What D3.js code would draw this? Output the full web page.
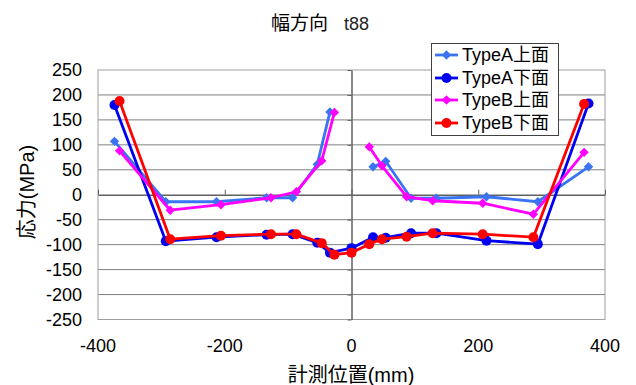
<!DOCTYPE html>
<html><head><meta charset="utf-8">
<script src="https://cdn.jsdelivr.net/npm/d3@7"></script>
<style>
body{margin:0;background:#fff;}
text{font-family:"Liberation Sans",Arial,"Noto Sans CJK JP",sans-serif;fill:#000;}
</style></head>
<body><svg id="c" width="636" height="385"></svg>
<script>
// ---- data ----
const titleMain = "幅方向";
const titleSub = "t88";
const xLabel = "計測位置(mm)";
const yLabel = "応力(MPa)";
const xTicks = [-400,-200,0,200,400];
const yTicks = [250,200,150,100,50,0,-50,-100,-150,-200,-250];
const seriesNames = ["TypeA上面","TypeA下面","TypeB上面","TypeB下面"];
const posA = [-374,-293,-213,-134,-93,-54,-34,0,34,54,94,134,213,294,374];
const posB = [-366,-286,-206,-127,-87,-47,-27,0,28,48,87,128,207,287,367];
const typeAUpper = [107,-14,-14,-6,-6,61,166,null,56,67,-7,-7,-4,-14,56];
const typeALower = [180,-93,-85,-80,-79,-96,-116,-107,-85,-86,-77,-77,-92,-99,183];
const typeBUpper = [88,-31,-20,-6,6,68,165,null,96,58,-4,-12,-17,-39,85];
const typeBLower = [188,-89,-82,-79,-79,-97,-120,-116,-99,-89,-84,-77,-79,-85,182];

// ---- layout/styles ----
const L=98, R=605, T=70, B=319.5;
const colors = ["#3A74F2","#0000F0","#FF00FF","#FF0000"];
const markers = ["diamond","circle","diamond","circle"];
const seriesData = [
  posA.map((p,i)=>({x:p,y:typeAUpper[i]})),
  posA.map((p,i)=>({x:p,y:typeALower[i]})),
  posB.map((p,i)=>({x:p,y:typeBUpper[i]})),
  posB.map((p,i)=>({x:p,y:typeBLower[i]}))
];

const svg = d3.select("#c");
const x = d3.scaleLinear().domain([-400,400]).range([L,R]);
const y = d3.scaleLinear().domain([-250,250]).range([B,T]);

// grid
svg.append("g").selectAll("line").data(yTicks.filter(v=>v!==0 && Math.abs(v)!==250)).join("line")
  .attr("x1",L).attr("x2",R).attr("y1",d=>y(d)).attr("y2",d=>y(d))
  .attr("stroke","#808080").attr("stroke-width",1);
svg.append("rect").attr("x",L).attr("y",T).attr("width",R-L).attr("height",B-T)
  .attr("fill","none").attr("stroke","#a0a0a0").attr("stroke-width",1);

// zero axes
const yAxisG = svg.append("g").attr("transform",`translate(${x(0)},0)`)
  .call(d3.axisLeft(y).tickValues(yTicks).tickSize(4).tickSizeOuter(0).tickFormat(""));
yAxisG.select(".domain").attr("stroke","#606060").attr("stroke-width",1.5);
yAxisG.selectAll(".tick line").attr("stroke","#606060");
const xAxisG = svg.append("g").attr("transform",`translate(0,${y(0)})`)
  .call(d3.axisTop(x).tickValues(xTicks).tickSize(5).tickSizeOuter(0).tickFormat(""));
xAxisG.select(".domain").attr("stroke","#606060").attr("stroke-width",1.5);
xAxisG.selectAll(".tick line").attr("stroke","#606060");

// tick labels
svg.append("g").selectAll("text").data(yTicks).join("text")
  .attr("x",82).attr("y",d=>y(d)).attr("dy","0.35em").attr("text-anchor","end")
  .attr("font-size",18).text(d=>d);
svg.append("g").selectAll("text").data(xTicks).join("text")
  .attr("x",d=>x(d)).attr("y",352).attr("text-anchor","middle")
  .attr("font-size",18).text(d=>d);

// titles
const tt = svg.append("text").attr("x",320).attr("y",30).attr("text-anchor","middle").attr("font-size",19);
tt.append("tspan").text(titleMain);
tt.append("tspan").attr("dx",16).attr("font-size",18).attr("fill","#222").text(titleSub);
svg.append("text").attr("x",351).attr("y",382).attr("text-anchor","middle").attr("font-size",20).text(xLabel);
svg.append("text").attr("transform","translate(34,192) rotate(-90)").attr("text-anchor","middle").attr("font-size",20).text(yLabel);

// series
const line = d3.line().defined(d=>d.y!==null).x(d=>x(d.x)).y(d=>y(d.y));
const diamond = d3.symbol().type(d3.symbolDiamond2).size(56);
function drawMarker(g,type,col,cx,cy){
  if(type==="circle"){
    g.append("circle").attr("cx",cx).attr("cy",cy).attr("r",5).attr("fill",col);
  } else {
    g.append("path").attr("d",diamond()).attr("transform",`translate(${cx},${cy})`).attr("fill",col);
  }
}
seriesData.forEach((data,i)=>{
  const g = svg.append("g");
  g.append("path").datum(data).attr("d",line).attr("fill","none")
    .attr("stroke",colors[i]).attr("stroke-width",2.8).attr("stroke-linejoin","round");
  data.filter(d=>d.y!==null).forEach(d=>drawMarker(g,markers[i],colors[i],x(d.x),y(d.y)));
});

// legend
const lg = svg.append("g");
lg.append("rect").attr("x",431.5).attr("y",43.5).attr("width",127).attr("height",92)
  .attr("fill","#fff").attr("stroke","#404040").attr("stroke-width",1);
const rowY = [55,78,100,123];
seriesNames.forEach((n,i)=>{
  lg.append("line").attr("x1",435).attr("x2",458).attr("y1",rowY[i]).attr("y2",rowY[i])
    .attr("stroke",colors[i]).attr("stroke-width",2.8);
  drawMarker(lg,markers[i],colors[i],446.5,rowY[i]);
  lg.append("text").attr("x",462).attr("y",rowY[i]).attr("dy","0.36em").attr("font-size",18).text(n);
});
</script></body></html>
